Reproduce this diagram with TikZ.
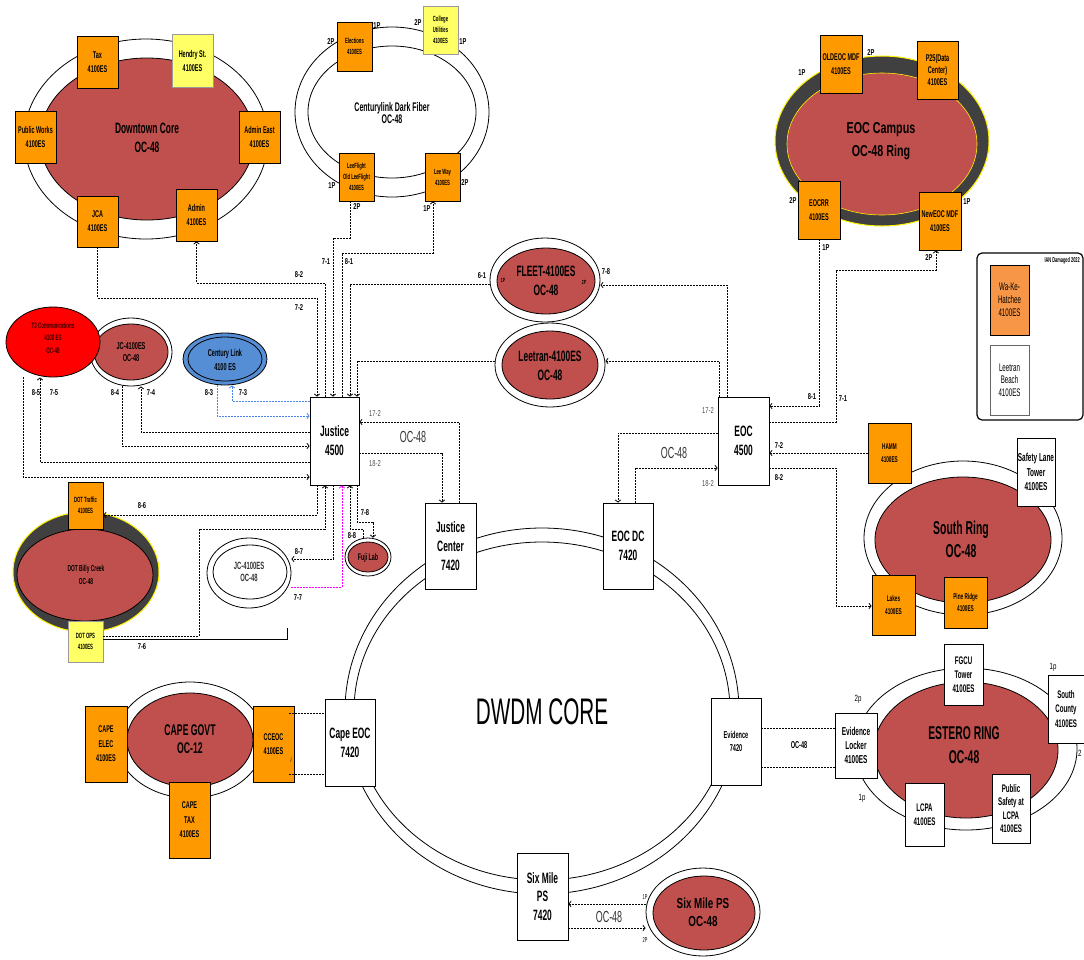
\documentclass[tikz,border=0pt]{standalone}
\usepackage{fontspec}
\setmainfont[FakeStretch=0.56]{Liberation Sans}
\newfontfamily\wider[FakeStretch=0.68]{Liberation Sans}
\usetikzlibrary{shapes.geometric,arrows.meta}
\definecolor{rred}{HTML}{C0504D}
\definecolor{orng}{HTML}{FF9900}
\definecolor{ylw}{HTML}{FFFF66}
\definecolor{dkring}{HTML}{404040}
\definecolor{cblue}{HTML}{558ED5}
\definecolor{wake}{HTML}{F79646}
\definecolor{lblue}{HTML}{4A86E8}
\definecolor{mag}{HTML}{FF00FF}
\newcommand\fsz[2]{\fontsize{#1}{#2}\selectfont}
\newcommand\bx[7]{\node[#6, minimum width={#4-#2}, minimum height={#5-#3}] (#1) at ({(#2+#4)/2},{(#3+#5)/2}) {#7};}
\newcommand\el[6]{\node[#6, ellipse, inner sep=0pt, minimum width={2*#4}, minimum height={2*#5}] (#1) at (#2,#3) {};}
\begin{document}
\begin{tikzpicture}[x=1pt,y=-1pt,
  bxs/.style={draw=black, line width=0.8pt, align=center, inner sep=0pt},
  ob/.style={bxs, fill=orng, font=\fsz{9.8}{14}\bfseries},
  yb/.style={bxs, fill=ylw, draw=black!40, font=\fsz{9.8}{14}\bfseries},
  wb/.style={bxs, fill=white, font=\fsz{15}{19}\bfseries},
  wring/.style={draw=black, line width=0.8pt, fill=white},
  rring/.style={draw=black, line width=0.8pt, fill=rred},
  ttl/.style={align=center, inner sep=0pt, font=\fsz{15}{19}\bfseries},
  lbl/.style={inner sep=0pt, font=\wider\fsz{8.5}{9}\bfseries},
  glbl/.style={inner sep=0pt, font=\wider\fsz{8.5}{9}, text=black!70},
  oc/.style={inner sep=0pt, font=\fsz{16}{16}, text=black!80},
  conn/.style={line width=0.8pt, dash pattern=on 1.8pt off 1.2pt},
  bconn/.style={conn, draw=lblue},
  mconn/.style={conn, draw=mag},
  tip/.style={-{Straight Barb[length=2.2pt,width=5.5pt]}},
]
\useasboundingbox (0,0) rectangle (1084,959);

% ---------- DWDM core ring
\el{dwdmo}{542}{711}{197}{183}{wring}
\el{dwdm}{542}{711}{188}{169}{wring}
\node[inner sep=0pt, font=\fsz{37}{37}] (dwdmt) at (542,712) {DWDM CORE};

% ---------- Downtown core
\el{dtco}{146}{139}{122}{100}{wring}
\el{dtc}{147}{139}{107}{81}{rring}
\node[ttl] (dtct) at (147,138) {Downtown Core\\OC-48};
\bx{tax}{77}{36}{118}{88}{ob}{Tax\\4100ES}
\bx{hendry}{172}{34}{213}{87}{yb}{Hendry St.\\4100ES}
\bx{pw}{15}{111}{56}{163}{ob}{Public Works\\4100ES}
\bx{ae}{239}{111}{280}{163}{ob}{Admin East\\4100ES}
\bx{jca}{77}{196}{118}{247}{ob}{JCA\\4100ES}
\bx{admin}{176}{189}{217}{241}{ob}{Admin\\4100ES}

% ---------- Centurylink dark fiber
\el{clfo}{392}{112}{97}{85}{wring}
\el{clf}{392}{112}{84}{66}{wring}
\node[ttl, font=\fsz{12.5}{12}\bfseries] (clft) at (392,113) {Centurylink Dark Fiber\\OC-48};
\bx{elect}{337}{22}{372}{71}{ob, font=\fsz{7.5}{11}\bfseries}{Elections\\4100ES}
\bx{college}{423}{6}{458}{54}{yb, font=\fsz{7.5}{11}\bfseries}{College\\Utilities\\4100ES}
\bx{lflight}{339}{153}{374}{201}{ob, font=\fsz{7.5}{11}\bfseries}{LeeFlight\\Old LeeFlight\\4100ES}
\bx{leeway}{425}{153}{460}{201}{ob, font=\fsz{7.5}{11}\bfseries}{Lee Way\\4100ES}
\node[lbl] (p1) at (377,26) {1P};
\node[lbl] (p2) at (331,42) {2P};
\node[lbl] (p3) at (418,23) {2P};
\node[lbl] (p4) at (463,42) {1P};
\node[lbl] (p5) at (332,186) {1P};
\node[lbl] (p6) at (357,207) {2P};
\node[lbl] (p7) at (465,183) {2P};
\node[lbl] (p8) at (427,209) {1P};

% ---------- EOC campus
\el{eocco}{882}{141}{107}{85}{draw=yellow, line width=1pt, fill=dkring}
\el{eocc}{882}{144}{95}{71}{draw=yellow, line width=0.6pt, fill=rred}
\node[ttl, font=\wider\fsz{15.8}{23}\bfseries] (eocct) at (881,141) {EOC Campus\\OC-48 Ring};
\bx{oldeoc}{820}{35}{862}{93}{ob}{OLDEOC MDF\\4100ES}
\bx{p25}{917}{41}{958}{99}{ob, font=\fsz{9.8}{12.3}\bfseries}{P25(Data\\Center)\\4100ES}
\bx{eocrr}{798}{181}{840}{239}{ob}{EOCRR\\4100ES}
\bx{neweoc}{919}{192}{961}{250}{ob}{NewEOC MDF\\4100ES}
\node[lbl] (q1) at (802,73) {1P};
\node[lbl] (q2) at (871,53) {2P};
\node[lbl] (q3) at (793,201) {2P};
\node[lbl] (q4) at (826,248) {1P};
\node[lbl] (q5) at (967,202) {1P};
\node[lbl] (q6) at (929,258) {2P};

% ---------- Legend
\bx{legend}{977}{253}{1083}{420}{draw=black, line width=1.2pt, rounded corners=5pt, inner sep=0pt}{}
\node[inner sep=0pt, font=\fsz{7}{7}\bfseries, anchor=east] (iant) at (1080,261) {IAN Damaged 2022};
\bx{wakeb}{990}{265}{1029}{335}{bxs, fill=wake, font=\fsz{11}{13}}{Wa-Ke-\\Hatchee\\4100ES}
\bx{ltb}{990}{345}{1029}{415}{bxs, fill=white, draw=black!60, font=\fsz{11}{12.5}}{Leetran\\Beach\\4100ES}

% ---------- Left group
\el{jcro}{131}{352}{41}{34}{wring}
\el{jcr}{131}{352}{37}{28}{rring}
\node[ttl, font=\fsz{10}{12.7}\bfseries] (jcrt) at (131,352) {JC-4100ES\\OC-48};
\el{t3}{53}{342}{47}{35}{draw=black, line width=0.8pt, fill=red}
\node[ttl, font=\fsz{8}{12.5}\bfseries, text=black!80!red] (t3t) at (53,338) {T3 Communications\\4100 ES\\OC-48};
\el{clo}{225}{359}{42}{26}{draw=black, line width=0.8pt, fill=cblue}
\el{cl}{225}{359}{37}{22}{draw=black, line width=0.8pt}
\node[ttl, font=\fsz{10}{13.3}\bfseries] (clt) at (225,360) {Century Link\\4100 ES};

% ---------- Hubs
\bx{jus}{310}{397}{359}{485}{wb}{Justice\\4500}
\bx{eoc}{718}{397}{769}{485}{wb}{EOC\\4500}
\bx{jc7420}{425}{503}{476}{589}{wb}{Justice\\Center\\7420}
\bx{eocdc}{603}{503}{653}{589}{wb}{EOC DC\\7420}
\bx{capeeoc}{325}{699}{375}{786}{wb}{Cape EOC\\7420}
\bx{ev}{711}{698}{761}{785}{wb, font=\fsz{10}{13.3}\bfseries}{Evidence\\7420}
\bx{sm}{517}{853}{568}{940}{wb, font=\fsz{15}{18.3}\bfseries}{Six Mile\\PS\\7420}

% ---------- FLEET / Leetran
\el{fleeto}{545}{280}{55}{42}{wring}
\el{fleet}{546}{281}{49}{33}{rring}
\node[ttl] (fleett) at (546,281) {FLEET-4100ES\\OC-48};
\node[inner sep=0pt, font=\fsz{6}{6}\bfseries] (fp1) at (503,280) {1P};
\node[inner sep=0pt, font=\fsz{6}{6}\bfseries] (fp2) at (584,282) {2P};
\el{leetrano}{550}{365}{55}{42}{wring}
\el{leetran}{550}{365}{48}{34}{rring}
\node[ttl] (leetrant) at (550,366) {Leetran-4100ES\\OC-48};

% ---------- South ring
\el{sro}{963}{538}{99}{77}{wring}
\el{sr}{963}{540}{88}{63}{rring}
\node[ttl, font=\fsz{18.6}{23}\bfseries] (srt) at (961,539) {South Ring\\OC-48};
\bx{hamm}{868}{423}{911}{483}{ob, font=\fsz{8.4}{12.3}\bfseries}{HAMM\\4100ES}
\bx{slt}{1017}{438}{1055}{506}{bxs, fill=white, font=\fsz{11.5}{14.3}\bfseries}{Safety Lane\\Tower\\4100ES}
\bx{lakes}{872}{575}{915}{635}{ob, font=\fsz{8.4}{12.5}\bfseries}{Lakes\\4100ES}
\bx{pine}{944}{577}{987}{628}{ob, font=\fsz{8.4}{12.5}\bfseries}{Pine Ridge\\4100ES}

% ---------- DOT Billy Creek
\el{dotbo}{86}{572}{73}{60}{draw=yellow, line width=1pt, fill=dkring}
\el{dotb}{85}{575}{68}{46}{rring}
\node[ttl, font=\fsz{8.7}{12.7}\bfseries] (dotbt) at (86,575) {DOT Billy Creek\\OC-48};
\bx{dott}{68}{482}{103}{529}{ob, font=\fsz{7.6}{11}\bfseries}{DOT Traffic\\4100ES}
\bx{dotops}{68}{621}{103}{662}{yb, font=\fsz{7.6}{10.7}\bfseries}{DOT OPS\\4100ES}

% ---------- JC white and Fuji
\el{jcwo}{249}{573}{42}{35}{wring}
\el{jcw}{250}{572}{37}{27}{wring}
\node[ttl, font=\fsz{10.5}{11.7}\bfseries, text=black!80] (jcwt) at (249,572) {JC-4100ES\\OC-48};
\el{fujio}{368}{557}{23}{19}{wring}
\el{fuji}{368}{557}{20}{15}{rring}
\node[ttl, font=\fsz{9.5}{10}\bfseries] (fujit) at (368,558) {Fuji Lab};

% ---------- Cape govt
\el{capeo}{190}{740}{74}{58}{wring}
\el{cape}{190}{740}{63}{47}{rring}
\node[ttl, font=\fsz{15.5}{17.7}\bfseries] (capet) at (190,739) {CAPE GOVT\\OC-12};
\bx{capeelec}{85}{706}{127}{782}{ob, font=\fsz{9.8}{14.5}\bfseries}{CAPE\\ELEC\\4100ES}
\bx{cceoc}{253}{706}{294}{782}{ob}{CCEOC\\4100ES}
\bx{capetax}{169}{782}{210}{858}{ob, font=\fsz{9.8}{14.5}\bfseries}{CAPE\\TAX\\4100ES}
\node[inner sep=0pt, font=\fsz{8}{8}\itshape] (imark) at (291,760) {i};

% ---------- Estero ring
\el{esto}{966}{749}{111}{81}{wring}
\el{est}{966}{750}{92}{68}{rring}
\node[ttl, font=\fsz{18.5}{24}\bfseries] (estt) at (964,745) {ESTERO RING\\OC-48};
\bx{evl}{835}{713}{877}{778}{bxs, fill=white, font=\fsz{11.5}{14.3}\bfseries}{Evidence\\Locker\\4100ES}
\bx{fgcu}{944}{644}{983}{705}{bxs, fill=white, font=\fsz{11}{14.2}\bfseries}{FGCU\\Tower\\4100ES}
\bx{scounty}{1048}{675}{1084}{743}{bxs, fill=white, font=\fsz{11}{14.2}\bfseries}{South\\County\\4100ES}
\bx{lcpa}{905}{783}{944}{846}{bxs, fill=white, font=\fsz{11}{14.2}\bfseries}{LCPA\\4100ES}
\bx{psl}{992}{774}{1030}{843}{bxs, fill=white, font=\fsz{11}{13.5}\bfseries}{Public\\Safety at\\LCPA\\4100ES}
\node[inner sep=0pt, font=\wider\fsz{9}{9}] (e1) at (858,699) {2p};
\node[inner sep=0pt, font=\wider\fsz{9}{9}] (e2) at (862,798) {1p};
\node[inner sep=0pt, font=\wider\fsz{9}{9}] (e3) at (1053,667) {1p};
\node[inner sep=0pt, font=\wider\fsz{9}{9}, anchor=west] (e4) at (1078,753) {2};
\node[inner sep=0pt, font=\fsz{10}{10}\bfseries] (evoc) at (799,745) {OC-48};

% ---------- Six Mile PS
\el{smpso}{703}{912}{57}{44}{wring}
\el{smps}{704}{913}{51}{37}{rring}
\node[ttl, font=\wider\fsz{14.5}{18.3}\bfseries] (smpst) at (703,912) {Six Mile PS\\OC-48};
\node[inner sep=0pt, font=\fsz{7}{7}] (s1) at (645,897) {1P};
\node[inner sep=0pt, font=\fsz{7}{7}] (s2) at (645,940) {2P};
\node[oc] (smoc) at (609,917) {OC-48};

% ---------- Connectors: top of Justice
\draw[conn,tip] (jca.south) |- (317,298) -- (jus.north -| 317,0);
\draw[conn,tip] (jus.north -| 325,0) |- (196.5,283) -- (admin.south);
\draw[conn,tip] (lflight.south -| 350,0) |- (333,238) -- (jus.north -| 333,0);
\draw[conn,tip] (jus.north -| 342,0) |- (433,253) -- (leeway.south -| 433,0);
\draw[conn,tip] (fleeto.west |- 0,284) -| (jus.north -| 350,0);
\draw[conn,tip] (leetrano.west |- 0,361) -| (jus.north -| 357,0);
\node[lbl] (l82a) at (299,275) {8-2};
\node[lbl] (l72a) at (299,308) {7-2};
\node[lbl] (l71a) at (326,262) {7-1};
\node[lbl] (l81a) at (349,262) {8-1};
\node[lbl] (l61) at (482,276) {6-1};
\node[lbl] (l78a) at (606,272) {7-8};

% EOC top
\draw[conn,tip] (eoc.north -| 727,0) |- (fleeto.east |- 0,285);
\draw[conn,tip] (eoc.north -| 719,0) |- (leetrano.east |- 0,361);

% Justice <-> Justice Center
\draw[conn,tip] (jc7420.north -| 459,0) |- (jus.east |- 0,422);
\draw[conn,tip] (jus.east |- 0,453) -| (jc7420.north -| 442,0);
\node[glbl] (l172a) at (375,414) {17-2};
\node[glbl] (l182a) at (375,464) {18-2};
\node[oc] (oc1) at (413,437) {OC-48};

% EOC <-> EOC DC
\draw[conn,tip] (eoc.west |- 0,433) -| (eocdc.north -| 618,0);
\draw[conn,tip] (eocdc.north -| 635,0) |- (eoc.west |- 0,468);
\node[glbl] (l172b) at (708,411) {17-2};
\node[glbl] (l182b) at (708,484) {18-2};
\node[oc] (oc2) at (674,453) {OC-48};

% EOC right side
\draw[conn,tip] (eocrr.south -| 819,0) |- (eoc.east |- 0,406);
\draw[conn,tip] (eoc.east |- 0,422) -| (836,270) -| (neweoc.south -| 936,0);
\draw[conn,tip] (hamm.west |- 0,453) -- (eoc.east |- 0,453);
\draw[conn,tip] (eoc.east |- 0,468) -| (836,606) -- (lakes.west |- 0,606);
\node[lbl] (l81b) at (812,397) {8-1};
\node[lbl] (l71b) at (843,399) {7-1};
\node[lbl] (l72b) at (779,446) {7-2};
\node[lbl] (l82b) at (779,478) {8-2};

% Justice left side
\draw[bconn,tip] (jus.west |- 0,401) -| (clo.south -| 232,0);
\draw[bconn,tip] (clo.south -| 217,0) |- (jus.west |- 0,416);
\draw[conn,tip] (jus.west |- 0,432) -| (jcro.south -| 141,0);
\draw[conn,tip] (jcro.south -| 122,0) |- (jus.west |- 0,446);
\draw[conn,tip] (jus.west |- 0,462) -| (t3.south -| 40,0);
\draw[conn,tip] (t3.south -| 23,0) |- (jus.west |- 0,477);
\node[lbl] (l85) at (36,393) {8-5};
\node[lbl] (l75) at (54,393) {7-5};
\node[lbl] (l84) at (115,393) {8-4};
\node[lbl] (l74) at (151,393) {7-4};
\node[lbl] (l83) at (209,393) {8-3};
\node[lbl] (l73) at (243,393) {7-3};

% Justice bottom
\draw[conn,tip] (jus.south -| 317,0) |- (dott.east |- 0,515);
\draw[conn,tip] (dotops.east |- 0,636) -| (199,529) -| (jus.south -| 325,0);
\coordinate (dotend) at (287,628);
\draw[line width=0.8pt] (dotops.east |- 0,639) -| (dotend);
\draw[conn,tip] (jus.south -| 333,0) |- (jcwo.east |- 0,559);
\draw[mconn,tip] (jcwo.east |- 0,587) -| (jus.south -| 342,0);
\draw[conn,tip] (fujio.north -| 363,0) |- (350,529) -- (jus.south -| 350,0);
\draw[conn,tip] (jus.south -| 357,0) |- (373,522) -- (fujio.north -| 373,0);
\node[lbl] (l86) at (142,506) {8-6};
\node[lbl] (l76) at (142,647) {7-6};
\node[lbl] (l87) at (299,552) {8-7};
\node[lbl] (l77) at (298,598) {7-7};
\node[lbl] (l78b) at (365,513) {7-8};
\node[lbl] (l88) at (352,536) {8-8};

% Cape, Evidence, Six Mile links
\coordinate (cc1) at (289,713);
\coordinate (cc2) at (289,774);
\draw[conn] (cc1) -- (capeeoc.west |- cc1);
\draw[conn] (cc2) -- (capeeoc.west |- cc2);
\draw[conn] (ev.east |- 0,728) -- (evl.west |- 0,728);
\draw[conn] (ev.east |- 0,767) -- (evl.west |- 0,767);
\draw[conn,tip] (smpso.west |- 0,904) -- (sm.east |- 0,904);
\draw[conn,tip] (sm.east |- 0,928) -- (smpso.west |- 0,928);
\end{tikzpicture}
\end{document}
